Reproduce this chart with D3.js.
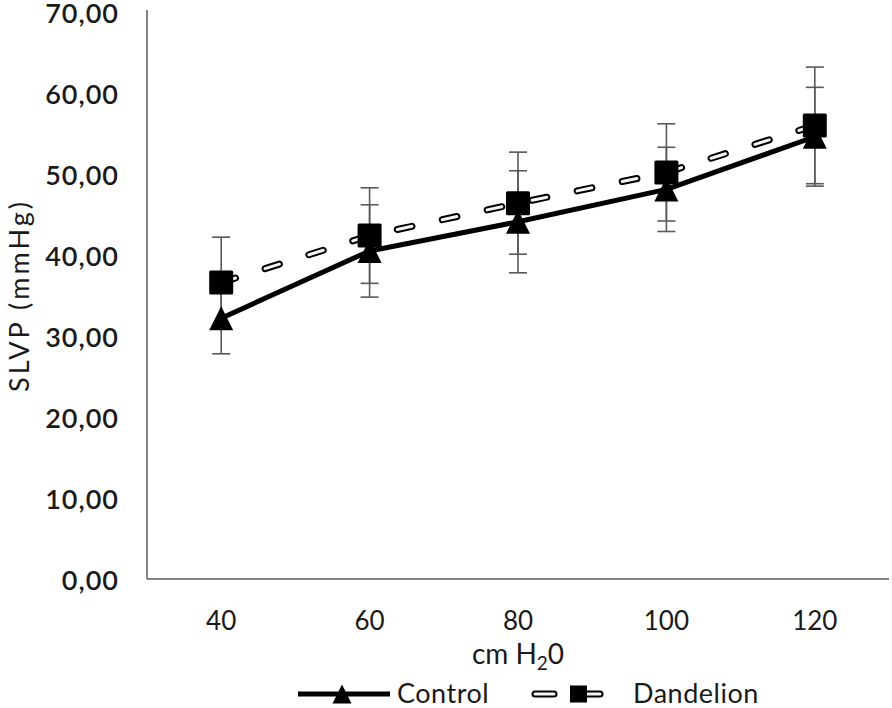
<!DOCTYPE html>
<html>
<head>
<meta charset="utf-8">
<script src="https://cdn.jsdelivr.net/npm/d3@7"></script>
<style>
  body { margin: 0; background: #fff; }
  text { font-family: Lato, "Open Sans", sans-serif; fill: #1a1a1a; }
</style>
</head>
<body>
<div id="chart"></div>
<script>
// values (mean and +/- error per pressure)
var pressures = ["40", "60", "80", "100", "120"];
var controlMean = [32.2, 40.5, 44.1, 48.1, 54.6];
var controlErr = [4.4, 5.7, 6.3, 5.2, 6.1];
var dandelionMean = [36.6, 42.4, 46.4, 50.2, 56.0];
var dandelionErr = [5.6, 5.9, 6.3, 6.0, 7.2];
var yTicks = [0, 10, 20, 30, 40, 50, 60, 70];

var width = 892, height = 708;
var plotLeft = 147, plotRight = 889, plotTop = 12, plotBottom = 579;

var svg = d3.select("#chart").append("svg")
    .attr("width", width)
    .attr("height", height);

var xScale = d3.scaleBand()
    .domain(pressures)
    .range([plotLeft, plotRight])
    .padding(0);

var yScale = d3.scaleLinear()
    .domain([0, 70])
    .range([plotBottom, plotTop]);

function xPos(p) { return xScale(p) + xScale.bandwidth() / 2; }

var control = pressures.map(function(p, i) { return {p: p, v: controlMean[i], e: controlErr[i]}; });
var dandelion = pressures.map(function(p, i) { return {p: p, v: dandelionMean[i], e: dandelionErr[i]}; });

// axes: plain lines, no tick marks
var yAxis = d3.axisLeft(yScale)
    .tickValues(yTicks)
    .tickSize(0)
    .tickPadding(28)
    .tickFormat(function(d) { return d3.format(".2f")(d).replace(".", ","); });

var gy = svg.append("g")
    .attr("transform", "translate(" + plotLeft + ",0)")
    .call(yAxis);
gy.select(".domain").attr("stroke", "#595959").attr("stroke-width", 1.5).attr("d", "M0," + (plotTop - 2) + "V" + plotBottom);
gy.selectAll("text")
    .style("font-size", "27px")
    .style("font-weight", "600")
    .attr("letter-spacing", 1)
    .attr("dy", "0.38em");

var xAxis = d3.axisBottom(xScale)
    .tickSize(0)
    .tickPadding(46);

var gx = svg.append("g")
    .attr("transform", "translate(0," + plotBottom + ")")
    .call(xAxis);
gx.select(".domain").attr("stroke", "#595959").attr("stroke-width", 1.5).attr("d", "M" + plotLeft + ",0H" + plotRight);
gx.selectAll("text")
    .style("font-size", "26px")
    .attr("dy", "0.2em");

// axis titles
svg.append("text")
    .attr("transform", "translate(29,297) rotate(-90)")
    .attr("text-anchor", "middle")
    .attr("textLength", 190)
    .attr("lengthAdjust", "spacing")
    .style("font-size", "27px")
    .text("SLVP (mmHg)");

var xt = svg.append("text")
    .attr("x", 518)
    .attr("y", 664)
    .attr("text-anchor", "middle")
    .style("font-size", "28px");
xt.append("tspan").text("cm H");
xt.append("tspan").attr("dy", 6).style("font-size", "19px").text("2");
xt.append("tspan").attr("dy", -6).text("0");

// error bars
function errorBars(data, cls) {
  var g = svg.append("g").attr("class", cls)
      .attr("stroke", "#595959")
      .attr("stroke-width", 1.6)
      .attr("fill", "none");
  g.selectAll(".stem").data(data).enter().append("line")
      .attr("x1", function(d) { return xPos(d.p); })
      .attr("x2", function(d) { return xPos(d.p); })
      .attr("y1", function(d) { return yScale(d.v + d.e); })
      .attr("y2", function(d) { return yScale(d.v - d.e); });
  g.selectAll(".capTop").data(data).enter().append("line")
      .attr("x1", function(d) { return xPos(d.p) - 9; })
      .attr("x2", function(d) { return xPos(d.p) + 9; })
      .attr("y1", function(d) { return yScale(d.v + d.e); })
      .attr("y2", function(d) { return yScale(d.v + d.e); });
  g.selectAll(".capBot").data(data).enter().append("line")
      .attr("x1", function(d) { return xPos(d.p) - 9; })
      .attr("x2", function(d) { return xPos(d.p) + 9; })
      .attr("y1", function(d) { return yScale(d.v - d.e); })
      .attr("y2", function(d) { return yScale(d.v - d.e); });
}
errorBars(control, "errControl");
errorBars(dandelion, "errDandelion");

var valueline = d3.line()
    .x(function(d) { return xPos(d.p); })
    .y(function(d) { return yScale(d.v); });

// control line: solid black
svg.append("path")
    .datum(control)
    .attr("d", valueline)
    .attr("fill", "none")
    .attr("stroke", "#000")
    .attr("stroke-width", 5)
    .attr("stroke-linejoin", "round");

// dandelion line: outlined long dash (black rim, white core)
var dash = "15,31";
svg.append("path")
    .datum(dandelion)
    .attr("d", valueline)
    .attr("fill", "none")
    .attr("stroke", "#000")
    .attr("stroke-width", 7)
    .attr("stroke-linecap", "round")
    .attr("stroke-dasharray", dash);
svg.append("path")
    .datum(dandelion)
    .attr("d", valueline)
    .attr("fill", "none")
    .attr("stroke", "#f4f4f4")
    .attr("stroke-width", 3)
    .attr("stroke-linecap", "round")
    .attr("stroke-dasharray", dash);

function triangle(s) { return "M0," + (-s / 2) + "L" + (s / 2) + "," + (s / 2) + "L" + (-s / 2) + "," + (s / 2) + "Z"; }

svg.selectAll(".tri").data(control).enter().append("path")
    .attr("class", "tri")
    .attr("transform", function(d) { return "translate(" + xPos(d.p) + "," + yScale(d.v) + ")"; })
    .attr("d", triangle(24))
    .attr("fill", "#000");

svg.selectAll(".sq").data(dandelion).enter().append("rect")
    .attr("class", "sq")
    .attr("x", function(d) { return xPos(d.p) - 12; })
    .attr("y", function(d) { return yScale(d.v) - 12; })
    .attr("width", 24)
    .attr("height", 24)
    .attr("rx", 1.5)
    .attr("fill", "#000");

// legend
var ly = 694;
var legend = svg.append("g");
legend.append("line")
    .attr("x1", 298).attr("x2", 390).attr("y1", ly).attr("y2", ly)
    .attr("stroke", "#000").attr("stroke-width", 5);
legend.append("path")
    .attr("transform", "translate(342," + ly + ")")
    .attr("d", triangle(19))
    .attr("fill", "#000");
legend.append("text")
    .attr("x", 397).attr("y", ly + 9)
    .style("font-size", "27px")
    .attr("letter-spacing", 0.5)
    .text("Control");

// dandelion legend: two short outlined dashes with the square between
[[535, 554], [583, 600]].forEach(function(seg) {
  legend.append("line")
      .attr("x1", seg[0]).attr("x2", seg[1]).attr("y1", ly).attr("y2", ly)
      .attr("stroke", "#000").attr("stroke-width", 7)
      .attr("stroke-linecap", "round");
  legend.append("line")
      .attr("x1", seg[0]).attr("x2", seg[1]).attr("y1", ly).attr("y2", ly)
      .attr("stroke", "#f4f4f4").attr("stroke-width", 3)
      .attr("stroke-linecap", "round");
});
legend.append("rect")
    .attr("x", 570).attr("y", ly - 8.5)
    .attr("width", 17).attr("height", 17)
    .attr("fill", "#000");
legend.append("text")
    .attr("x", 633).attr("y", ly + 9)
    .style("font-size", "27px")
    .attr("letter-spacing", 0.5)
    .text("Dandelion");
</script>
</body>
</html>
